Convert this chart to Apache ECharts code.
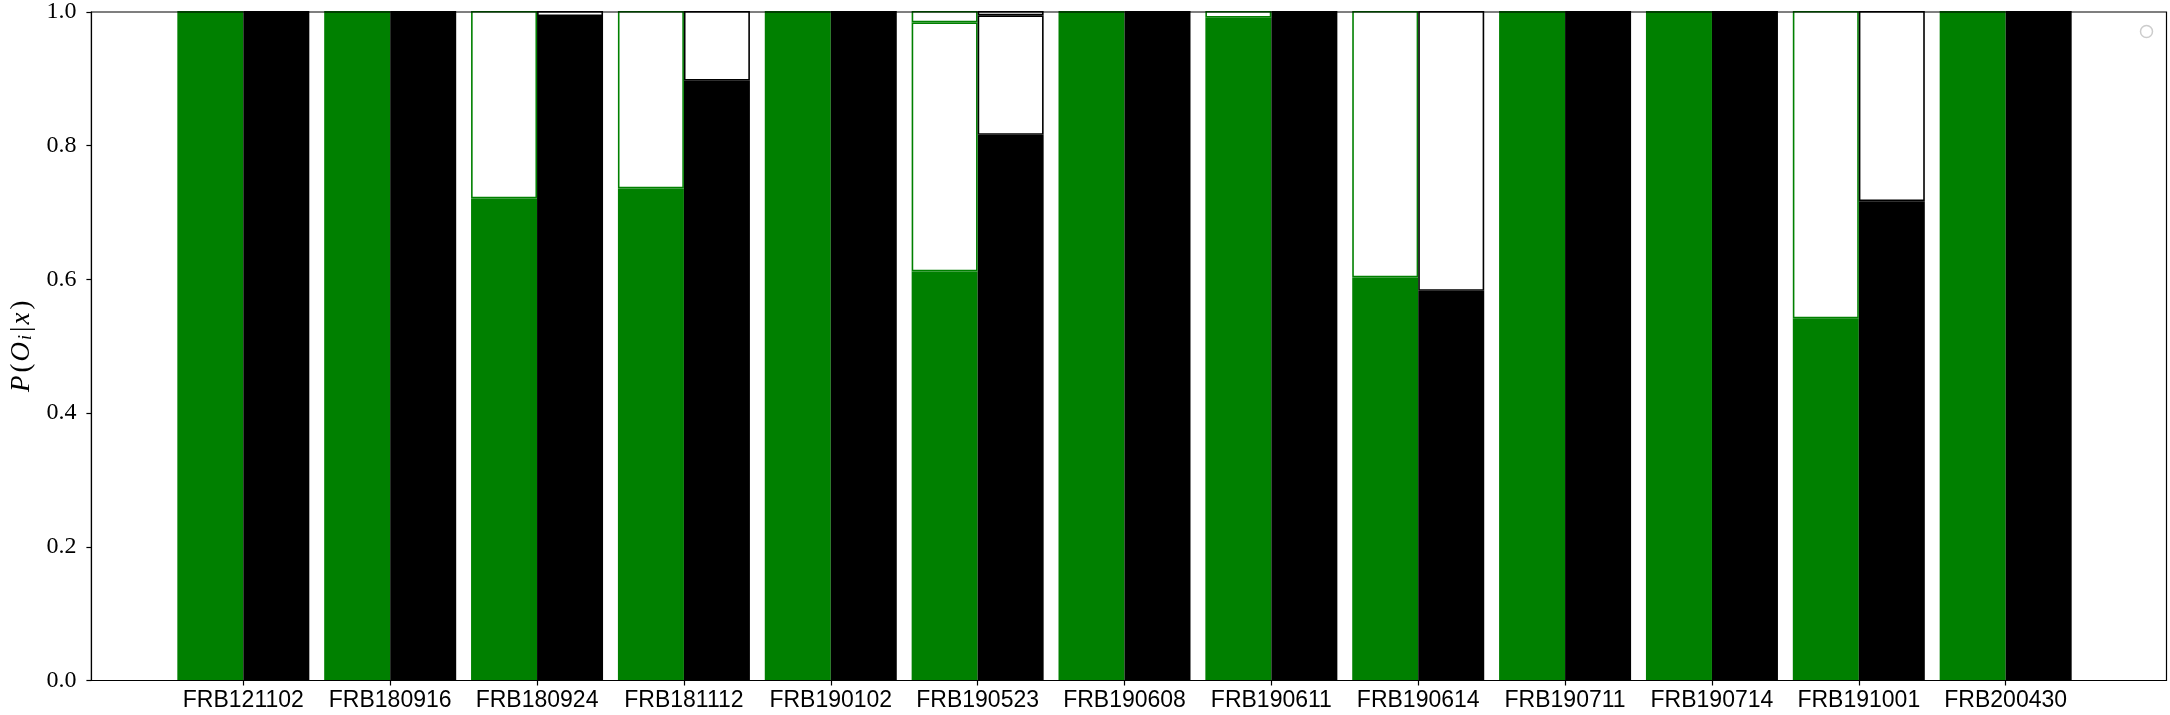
<!DOCTYPE html>
<html>
<head>
<meta charset="utf-8">
<script src="https://cdn.jsdelivr.net/npm/echarts@6/dist/echarts.min.js"></script>
<style>
html,body{margin:0;padding:0;background:#fff;}
#chart{width:2170px;height:715px;}
</style>
</head>
<body>
<div id="chart"></div>
<script>
const categories = ['FRB121102','FRB180916','FRB180924','FRB181112','FRB190102','FRB190523','FRB190608','FRB190611','FRB190614','FRB190711','FRB190714','FRB191001','FRB200430'];
const green1 = [1.0, 1.0, 0.720, 0.735, 1.0, 0.611, 1.0, 0.990, 0.602, 1.0, 1.0, 0.541, 1.0];
const green2 = [null, null, 0.280, 0.265, null, 0.372, null, 0.010, 0.398, null, null, 0.459, null];
const green3 = [null, null, null, null, null, 0.017, null, null, null, null, null, null, null];
const black1 = [1.0, 1.0, 0.9925, 0.896, 1.0, 0.815, 1.0, 1.0, 0.582, 1.0, 1.0, 0.716, 1.0];
const black2 = [null, null, 0.0075, 0.104, null, 0.1785, null, null, 0.418, null, null, 0.284, null];
const black3 = [null, null, null, null, null, 0.0065, null, null, null, null, null, null, null];
const yTicks = [0, 0.2, 0.4, 0.6, 0.8, 1.0];

const GREEN = '#008000';
const BW = 66;

function filled(name, data, color, stack) {
  return {
    name: name, type: 'bar', stack: stack, data: data,
    xAxisIndex: 1, yAxisIndex: 1, barWidth: BW, barGap: '0%',
    itemStyle: { color: color, borderWidth: 0 },
    emphasis: { disabled: true }, z: 2
  };
}
function hollow(name, data, color, stack) {
  return {
    name: name, type: 'bar', stack: stack, data: data,
    xAxisIndex: 1, yAxisIndex: 1, barWidth: BW, barGap: '0%',
    itemStyle: { color: '#ffffff', borderColor: color, borderWidth: 1.6 },
    emphasis: { disabled: true }, z: 3
  };
}

const chart = echarts.init(document.getElementById('chart'), null, { renderer: 'canvas' });
chart.setOption({
  animation: false,
  backgroundColor: '#ffffff',
  grid: [
    { left: 82.5, right: 3.5, top: 11, bottom: 34.5, show: true, borderColor: '#000', borderWidth: 1.2, backgroundColor: 'transparent', z: 10 },
    { left: 169.9, right: 90.9, top: 11, bottom: 34.5 }
  ],
  xAxis: [
    { type: 'value', gridIndex: 0, min: 0, max: 1, show: false },
    {
      type: 'category', gridIndex: 1, data: categories,
      axisLine: { show: false },
      axisTick: { show: true, alignWithLabel: true, length: 5, lineStyle: { color: '#000', width: 1.2 } },
      axisLabel: { show: true, interval: 0, margin: 9, color: '#000', fontFamily: 'Liberation Sans', fontSize: 23 }
    }
  ],
  yAxis: [
    {
      type: 'value', gridIndex: 0, min: 0, max: 1, interval: 0.2,
      axisLine: { show: true, lineStyle: { color: '#000', width: 1.2 } },
      axisTick: { show: true, length: 5, lineStyle: { color: '#000', width: 1.2 } },
      splitLine: { show: false },
      axisLabel: {
        margin: 15, color: '#000', fontFamily: 'Liberation Serif', fontSize: 24,
        formatter: function (v) { return (Math.round(v * 10) / 10).toFixed(1); }
      },
      name: '{it|P}{n|(}{it|O}{sub|i}{n||}{it|x}{n|)}',
      nameLocation: 'middle', nameRotate: 90, nameGap: 54,
      nameTextStyle: {
        color: '#000', fontFamily: 'Liberation Serif', fontSize: 27,
        rich: {
          it: { fontFamily: 'Liberation Serif', fontStyle: 'italic', fontSize: 27, color: '#000', padding: [0, 2, 0, 1] },
          n: { fontFamily: 'Liberation Serif', fontSize: 27, color: '#000', padding: [0, 1, 0, 1] },
          sub: { fontFamily: 'Liberation Serif', fontStyle: 'italic', fontSize: 18, color: '#000', padding: [10, 2, 0, 0] }
        }
      }
    },
    { type: 'value', gridIndex: 1, min: 0, max: 1, show: false }
  ],
  series: [
    filled('g1', green1, GREEN, 'g'),
    hollow('g2', green2, GREEN, 'g'),
    hollow('g3', green3, GREEN, 'g'),
    filled('k1', black1, '#000000', 'k'),
    hollow('k2', black2, '#000000', 'k'),
    hollow('k3', black3, '#000000', 'k')
  ],
  graphic: [
    { type: 'circle', shape: { cx: 2146.5, cy: 31.5, r: 6 }, style: { fill: 'none', stroke: '#cccccc', lineWidth: 1.5 }, z: 20 }
  ]
});
</script>
</body>
</html>
